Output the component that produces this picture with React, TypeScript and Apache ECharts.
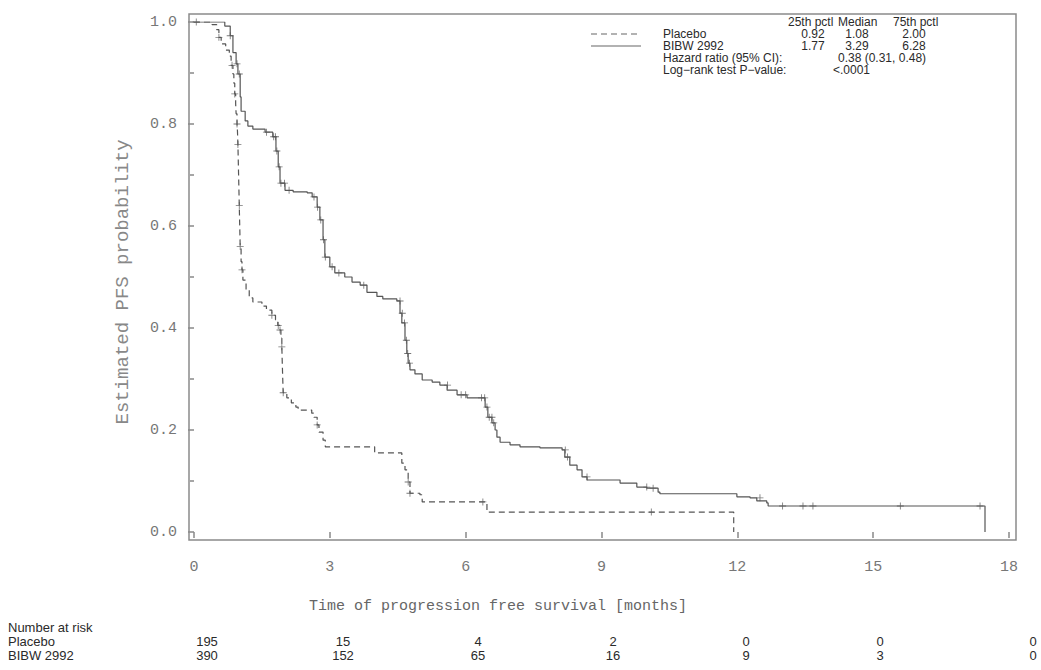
import React, { useEffect, useRef } from "react";
import * as echarts from "echarts";

// Kaplan-Meier steps: [months, survival]
const placeboSteps: number[][] = [
  [0, 1.0], [0.4, 0.995], [0.5, 0.985], [0.55, 0.97], [0.6, 0.957], [0.7, 0.945], [0.78, 0.933],
  [0.82, 0.915], [0.86, 0.898], [0.88, 0.88], [0.9, 0.859], [0.92, 0.84], [0.93, 0.82], [0.95, 0.8],
  [0.96, 0.786], [0.97, 0.76], [0.98, 0.72], [0.99, 0.68], [1.0, 0.64], [1.01, 0.6], [1.02, 0.56],
  [1.04, 0.53], [1.06, 0.514], [1.08, 0.494], [1.15, 0.475], [1.22, 0.459], [1.3, 0.451], [1.5, 0.443],
  [1.6, 0.435], [1.72, 0.425], [1.8, 0.416], [1.85, 0.405], [1.9, 0.396], [1.92, 0.38], [1.94, 0.363],
  [1.95, 0.33], [1.96, 0.3], [1.97, 0.273], [2.05, 0.263], [2.15, 0.253], [2.25, 0.245], [2.3, 0.239],
  [2.6, 0.233], [2.65, 0.225], [2.72, 0.21], [2.76, 0.196], [2.85, 0.18], [2.9, 0.167], [3.89, 0.167],
  [3.99, 0.155], [4.5, 0.155], [4.59, 0.135], [4.66, 0.122], [4.73, 0.098], [4.77, 0.076], [4.99, 0.073],
  [5.04, 0.059], [6.47, 0.039], [11.92, 0.0],
];
const bibwSteps: number[][] = [
  [0, 1.0], [0.53, 1.0], [0.68, 0.992], [0.8, 0.973], [0.86, 0.94], [0.93, 0.918], [0.97, 0.898],
  [1.02, 0.853], [1.04, 0.825], [1.13, 0.806], [1.19, 0.796], [1.3, 0.79], [1.57, 0.784], [1.74, 0.775],
  [1.81, 0.747], [1.86, 0.716], [1.9, 0.684], [2.01, 0.67], [2.19, 0.667], [2.5, 0.665], [2.61, 0.657],
  [2.72, 0.637], [2.78, 0.612], [2.85, 0.573], [2.89, 0.539], [3.0, 0.52], [3.11, 0.508], [3.33, 0.5],
  [3.49, 0.49], [3.67, 0.484], [3.82, 0.47], [4.04, 0.462], [4.17, 0.457], [4.48, 0.453], [4.55, 0.429],
  [4.59, 0.41], [4.66, 0.376], [4.7, 0.35], [4.73, 0.331], [4.77, 0.318], [4.88, 0.31], [5.04, 0.298],
  [5.26, 0.294], [5.43, 0.288], [5.59, 0.278], [5.81, 0.269], [6.03, 0.263], [6.43, 0.245], [6.49, 0.225],
  [6.58, 0.214], [6.65, 0.2], [6.69, 0.186], [6.76, 0.176], [6.98, 0.171], [7.2, 0.167], [7.64, 0.165],
  [8.13, 0.161], [8.19, 0.147], [8.3, 0.131], [8.46, 0.122], [8.57, 0.108], [8.68, 0.102], [9.41, 0.096],
  [9.78, 0.088], [10.0, 0.086], [10.25, 0.078], [10.29, 0.075], [11.99, 0.069], [12.28, 0.067],
  [12.43, 0.061], [12.65, 0.057], [12.68, 0.051], [17.47, 0.0],
];
// Censored observations: [months, survival]
const placeboCensored: number[][] = [
  [0.05, 1.0], [0.55, 0.97], [0.84, 0.915], [0.9, 0.859], [0.95, 0.8], [0.97, 0.76], [1.0, 0.64],
  [1.02, 0.56], [1.06, 0.514], [1.72, 0.425], [1.86, 0.405], [1.9, 0.396], [1.94, 0.363], [1.97, 0.273],
  [2.72, 0.21], [4.73, 0.098], [4.77, 0.076], [6.38, 0.059], [10.1, 0.039],
];
const bibwCensored: number[][] = [
  [0.8, 0.973], [0.95, 0.918], [1.0, 0.898], [1.6, 0.784], [1.76, 0.775], [1.8, 0.775], [1.83, 0.747],
  [1.88, 0.716], [1.92, 0.684], [2.0, 0.684], [2.1, 0.67], [2.65, 0.657], [2.73, 0.637], [2.8, 0.612],
  [2.86, 0.573], [2.9, 0.539], [3.05, 0.52], [3.2, 0.508], [3.75, 0.484], [4.55, 0.453], [4.6, 0.429],
  [4.65, 0.41], [4.69, 0.376], [4.72, 0.35], [4.76, 0.331], [5.6, 0.288], [5.9, 0.269], [6.0, 0.269],
  [6.35, 0.263], [6.42, 0.263], [6.47, 0.245], [6.52, 0.225], [6.58, 0.225], [6.62, 0.214], [8.2, 0.161],
  [8.25, 0.147], [8.68, 0.108], [10.0, 0.088], [10.14, 0.086], [12.5, 0.067], [13.0, 0.051],
  [13.45, 0.051], [13.67, 0.051], [15.6, 0.051], [17.36, 0.051],
];

const xTicks = [0, 3, 6, 9, 12, 15, 18];
const groups = ["Placebo", "BIBW 2992"];
const pctl25 = ["0.92", "1.77"];
const medians = ["1.08", "3.29"];
const pctl75 = ["2.00", "6.28"];
const hazardText = "0.38 (0.31, 0.48)";
const logRankText = "<.0001";
const atRiskPlacebo = ["195", "15", "4", "2", "0", "0", "0"];
const atRiskBibw = ["390", "152", "65", "16", "9", "3", "0"];
const atRiskX = [207, 343, 478, 613, 746, 880, 1033];

const MONO = "'Liberation Mono', 'DejaVu Sans Mono', monospace";
const SANS = "'Liberation Sans', Arial, sans-serif";
const LINE = "#555";
const PLUS = "path://M4.4,0H5.6V4.4H10V5.6H5.6V10H4.4V5.6H0V4.4H4.4Z";

export default function App() {
  const ref = useRef<HTMLDivElement>(null);
  useEffect(() => {
    if (!ref.current) return;
    const chart = echarts.init(ref.current, undefined, { renderer: "svg" });
    const txt = (text: string, x: number, y: number, opts: any = {}) => ({
      type: "text",
      x,
      y,
      style: {
        text,
        fontFamily: SANS,
        fontSize: 12,
        fill: "#2a2a2a",
        textAlign: "left",
        textVerticalAlign: "middle",
        ...opts,
      },
    });
    const rowY = [34, 46];
    const graphics: any[] = [
      {
        type: "rect",
        shape: { x: 189, y: 14, width: 827, height: 526 },
        style: { fill: "none", stroke: "#8a8a8a", lineWidth: 1.5 },
        z: 1,
      },
      txt("Time of progression free survival [months]", 498, 606, {
        fontFamily: MONO, fontSize: 15, fill: "#666", textAlign: "center",
      }),
      {
        type: "text",
        x: 123,
        y: 282,
        rotation: Math.PI / 2,
        style: {
          text: "Estimated PFS probability",
          fontFamily: MONO, fontSize: 19, fill: "#888",
          textAlign: "center", textVerticalAlign: "middle",
        },
      },
      // legend block
      txt("25th pctl", 788, 22),
      txt("Median", 838, 22),
      txt("75th pctl", 893, 22),
      {
        type: "line",
        shape: { x1: 591, y1: rowY[0], x2: 641, y2: rowY[0] },
        style: { stroke: "#999", lineWidth: 1.5, lineDash: [6, 4] },
      },
      {
        type: "line",
        shape: { x1: 591, y1: rowY[1], x2: 641, y2: rowY[1] },
        style: { stroke: "#999", lineWidth: 1.5 },
      },
      txt("Hazard ratio (95% CI):", 663, 58),
      txt(hazardText, 838, 58),
      txt("Log\u2212rank test P\u2212value:", 663, 70),
      txt(logRankText, 833, 70),
      // at risk table
      txt("Number at risk", 8, 627, { fontSize: 13 }),
      txt(groups[0], 8, 641, { fontSize: 13 }),
      txt(groups[1], 8, 655, { fontSize: 13 }),
    ];
    groups.forEach((g, i) => {
      const y = rowY[i];
      graphics.push(txt(g, 663, y));
      graphics.push(txt(pctl25[i], 813, y, { textAlign: "center" }));
      graphics.push(txt(medians[i], 857, y, { textAlign: "center" }));
      graphics.push(txt(pctl75[i], 914, y, { textAlign: "center" }));
    });
    atRiskX.forEach((x, i) => {
      graphics.push(txt(atRiskPlacebo[i], x, 641, { textAlign: "center", fontSize: 13 }));
      graphics.push(txt(atRiskBibw[i], x, 655, { textAlign: "center", fontSize: 13 }));
    });

    chart.setOption({
      animation: false,
      grid: { left: 194, right: 32, top: 22, bottom: 138 },
      xAxis: {
        type: "value",
        min: 0,
        max: 18,
        interval: 3,
        offset: 8,
        axisLine: { show: false },
        axisTick: { show: true, length: 6, lineStyle: { color: "#888", width: 1.5 } },
        splitLine: { show: false },
        axisLabel: {
          margin: 20,
          fontFamily: MONO,
          fontSize: 15,
          color: "#777",
          customValues: xTicks,
        },
      },
      yAxis: {
        type: "value",
        min: 0,
        max: 1,
        interval: 0.2,
        offset: 5,
        axisLine: { show: false },
        axisTick: { show: true, length: 6, lineStyle: { color: "#888", width: 1.5 } },
        minorTick: { show: true, splitNumber: 2, length: 4, lineStyle: { color: "#888", width: 1.5 } },
        splitLine: { show: false },
        axisLabel: {
          margin: 12,
          fontFamily: MONO,
          fontSize: 15,
          color: "#777",
          formatter: (v: number) => v.toFixed(1),
        },
      },
      graphic: graphics,
      series: [
        {
          name: "Placebo",
          type: "line",
          step: "end",
          data: placeboSteps,
          showSymbol: false,
          lineStyle: { color: LINE, width: 1.2, type: [6, 4] },
        },
        {
          name: "BIBW 2992",
          type: "line",
          step: "end",
          data: bibwSteps,
          showSymbol: false,
          lineStyle: { color: LINE, width: 1.2 },
        },
        {
          type: "scatter",
          data: placeboCensored,
          symbol: PLUS,
          symbolSize: 7,
          itemStyle: { color: LINE },
        },
        {
          type: "scatter",
          data: bibwCensored,
          symbol: PLUS,
          symbolSize: 7,
          itemStyle: { color: LINE },
        },
      ],
    });
    return () => chart.dispose();
  }, []);
  return (
    <div
      ref={ref}
      style={{ position: "fixed", left: 0, top: 0, width: 1041, height: 670, background: "#fff" }}
    />
  );
}
